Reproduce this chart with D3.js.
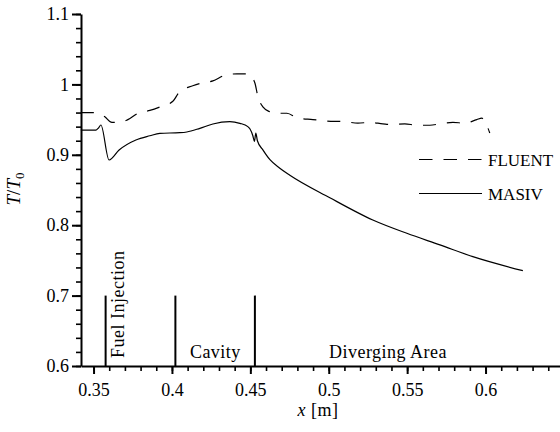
<!DOCTYPE html>
<html>
<head>
<meta charset="utf-8">
<script src="https://cdn.jsdelivr.net/npm/d3@7"></script>
<style>
  body { margin: 0; background: #fff; }
  svg { display: block; }
</style>
</head>
<body>
<div id="chart"></div>
<script>
// values
const fluentX = [0.3419, 0.3515, 0.3540, 0.3572, 0.3617, 0.3668, 0.3719, 0.3783, 0.3859, 0.3923,
  0.4006, 0.4050, 0.4133, 0.4191, 0.4261, 0.4338, 0.4414, 0.4484, 0.4510, 0.4529,
  0.4548, 0.4580, 0.4625, 0.4656, 0.4733, 0.4803, 0.4899, 0.4988, 0.5103, 0.5186,
  0.5262, 0.5345, 0.5402, 0.5485, 0.5562, 0.5645, 0.5709, 0.5792, 0.5868, 0.5944,
  0.5976, 0.6001, 0.6027];
const fluentT = [0.960, 0.960, 0.958, 0.954, 0.946, 0.946, 0.950, 0.959, 0.963, 0.968,
  0.976, 0.990, 0.998, 1.002, 1.005, 1.013, 1.015, 1.015, 1.010, 1.002,
  0.983, 0.968, 0.961, 0.959, 0.959, 0.952, 0.950, 0.948, 0.947, 0.945,
  0.946, 0.944, 0.943, 0.944, 0.942, 0.942, 0.944, 0.946, 0.945, 0.950,
  0.952, 0.945, 0.931];

const masivX = [0.3419, 0.3515, 0.3531, 0.3547, 0.3599, 0.3663, 0.3770, 0.3859, 0.3923, 0.4050,
  0.4095, 0.4178, 0.4261, 0.4369, 0.4433, 0.4484, 0.4497, 0.4516, 0.4526, 0.4535,
  0.4545, 0.4580, 0.4625, 0.4688, 0.4752, 0.5007, 0.5281, 0.5498, 0.5709,
  0.5919, 0.6238];
const masivT = [0.935, 0.935, 0.938, 0.9423, 0.8926, 0.9068, 0.921, 0.927, 0.9305, 0.9314,
  0.9324, 0.9376, 0.9438, 0.947, 0.9447, 0.940, 0.937, 0.927, 0.919, 0.931,
  0.920, 0.907, 0.893, 0.881, 0.871, 0.839, 0.8074, 0.7885, 0.772,
  0.7553, 0.7354];

// region markers and their labels
const markerX = [0.3577, 0.4022, 0.4529];
const regionLabels = ["Fuel Injection", "Cavity", "Diverging Area"];
const regionLabelX = [0.3697, 0.4277, 0.5378];

const xTicks = [0.35, 0.4, 0.45, 0.5, 0.55, 0.6];
const yTicks = [0.6, 0.7, 0.8, 0.9, 1, 1.1];
const seriesNames = ["FLUENT", "MASIV"];

const width = 560, height = 432;
const margin = {top: 14, left: 81, bottom: 66};
const serif = "Liberation Serif";

const svg = d3.select("#chart").append("svg")
    .attr("width", width)
    .attr("height", height)
    .attr("font-family", serif);

const x = d3.scaleLinear().domain([0.342, 0.65]).range([margin.left, margin.left + (0.65 - 0.342) * 1568]);
const y = d3.scaleLinear().domain([0.6, 1.1]).range([height - margin.bottom, margin.top]);

const fmt = d3.format("~g");

// minor ticks
svg.append("g")
    .attr("transform", "translate(0," + y(0.6) + ")")
    .call(d3.axisBottom(x).tickValues(d3.range(35, 65).map(d => d / 100)).tickSize(5).tickFormat(""))
    .call(g => g.select(".domain").remove())
    .call(g => g.selectAll("line").attr("stroke-width", 1.6));
svg.append("g")
    .attr("transform", "translate(" + x.range()[0] + ",0)")
    .call(d3.axisLeft(y).tickValues(d3.range(30, 56).map(d => d / 50)).tickSize(5).tickFormat(""))
    .call(g => g.select(".domain").remove())
    .call(g => g.selectAll("line").attr("stroke-width", 1.6));

// major axes
const xAxisG = svg.append("g")
    .attr("transform", "translate(0," + y(0.6) + ")")
    .call(d3.axisBottom(x).tickValues(xTicks).tickFormat(fmt).tickSize(8).tickSizeOuter(0).tickPadding(9));
const yAxisG = svg.append("g")
    .attr("transform", "translate(" + x.range()[0] + ",0)")
    .call(d3.axisLeft(y).tickValues(yTicks).tickFormat(fmt).tickSize(9).tickSizeOuter(0).tickPadding(3));

[xAxisG, yAxisG].forEach(g => {
    g.attr("font-family", serif).attr("font-size", 18);
    g.select(".domain").attr("stroke-width", 2);
    g.selectAll(".tick line").attr("stroke-width", 2);
});

// region markers
svg.append("g").selectAll("line")
    .data(markerX)
    .join("line")
    .attr("x1", d => x(d)).attr("x2", d => x(d))
    .attr("y1", y(0.6)).attr("y2", y(0.7))
    .attr("stroke", "#000")
    .attr("stroke-width", 2);

svg.append("text")
    .attr("transform", "translate(" + x(regionLabelX[0]) + "," + (y(0.6) - 8) + ") rotate(-90)")
    .attr("font-size", 18)
    .attr("letter-spacing", 0.5)
    .text(regionLabels[0]);
regionLabels.slice(1).forEach((t, i) => {
    svg.append("text")
        .attr("x", x(regionLabelX[i + 1]))
        .attr("y", y(0.6) - 8.5)
        .attr("text-anchor", "middle")
        .attr("font-size", 18)
        .attr("letter-spacing", 0.5)
        .text(t);
});

// lines
const line = d3.line()
    .x(d => x(d[0]))
    .y(d => y(d[1]))
    .curve(d3.curveMonotoneX);

svg.append("path")
    .datum(d3.zip(fluentX, fluentT))
    .attr("d", line)
    .attr("fill", "none")
    .attr("stroke", "#000")
    .attr("stroke-width", 1.2)
    .attr("stroke-dasharray", "13,11");

svg.append("path")
    .datum(d3.zip(masivX, masivT))
    .attr("d", line)
    .attr("fill", "none")
    .attr("stroke", "#000")
    .attr("stroke-width", 1.2);

// legend
const legend = svg.append("g");
seriesNames.forEach((name, i) => {
    const ly = 159.5 + i * 34;
    legend.append("line")
        .attr("x1", 419).attr("x2", 482)
        .attr("y1", ly).attr("y2", ly)
        .attr("stroke", "#000")
        .attr("stroke-width", 1.2)
        .attr("stroke-dasharray", i === 0 ? "13.5,11" : null);
    legend.append("text")
        .attr("x", 488)
        .attr("y", ly + 6)
        .attr("font-size", 17)
        .text(name);
});

// axis titles
const xt = svg.append("text")
    .attr("x", 318)
    .attr("y", 416)
    .attr("text-anchor", "middle")
    .attr("font-size", 18)
    .attr("letter-spacing", 0.5);
xt.append("tspan").attr("font-style", "italic").text("x");
xt.append("tspan").text(" [m]");

const yt = svg.append("text")
    .attr("transform", "translate(20,189) rotate(-90)")
    .attr("text-anchor", "middle")
    .attr("font-size", 19);
yt.append("tspan").attr("font-style", "italic").text("T");
yt.append("tspan").text("/");
yt.append("tspan").attr("font-style", "italic").text("T");
yt.append("tspan").attr("font-size", 13).attr("dy", 4).text("0");

svg.selectAll("text").attr("font-family", serif).attr("fill", "#000");
</script>
</body>
</html>
